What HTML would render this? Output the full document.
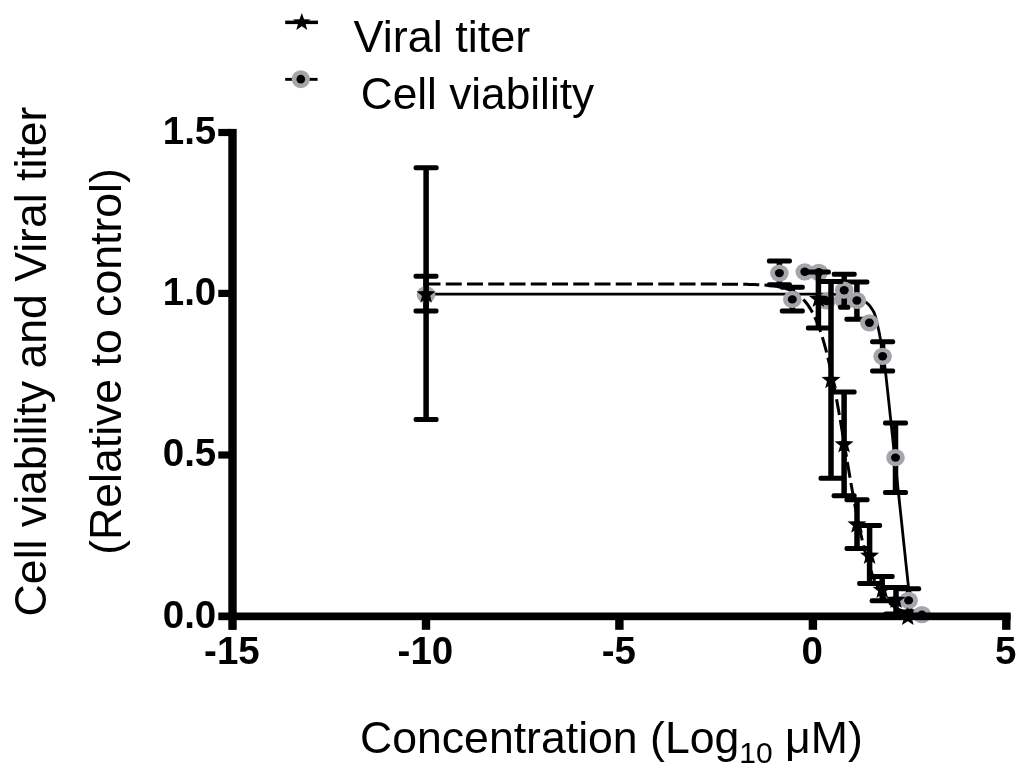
<!DOCTYPE html>
<html><head><meta charset="utf-8"><style>
html,body{margin:0;padding:0;background:#fff;}
svg{display:block;will-change:transform;}
</style></head><body>
<svg width="1024" height="778" viewBox="0 0 1024 778">
<rect width="1024" height="778" fill="#fff"/>
<path d="M426,294.2 L818.00,294.20 L818.58,294.20 L819.31,294.21 L820.16,294.21 L821.11,294.22 L822.15,294.22 L823.25,294.23 L824.39,294.24 L825.56,294.25 L826.72,294.26 L827.86,294.27 L828.96,294.28 L830.00,294.30 L831.01,294.32 L832.05,294.33 L833.09,294.34 L834.15,294.36 L835.20,294.38 L836.25,294.39 L837.28,294.42 L838.30,294.44 L839.28,294.47 L840.23,294.51 L841.14,294.55 L842.00,294.60 L842.81,294.65 L843.56,294.71 L844.28,294.76 L844.96,294.82 L845.62,294.89 L846.25,294.96 L846.87,295.03 L847.48,295.12 L848.09,295.22 L848.71,295.33 L849.35,295.46 L850.00,295.60 L850.67,295.75 L851.33,295.92 L851.99,296.09 L852.65,296.28 L853.31,296.47 L853.97,296.68 L854.63,296.90 L855.30,297.13 L855.96,297.38 L856.64,297.64 L857.32,297.91 L858.00,298.20 L858.70,298.51 L859.43,298.84 L860.18,299.18 L860.94,299.54 L861.71,299.92 L862.47,300.31 L863.22,300.70 L863.94,301.10 L864.64,301.50 L865.31,301.90 L865.93,302.30 L866.50,302.70 L867.02,303.09 L867.49,303.48 L867.93,303.86 L868.33,304.25 L868.70,304.64 L869.06,305.04 L869.39,305.44 L869.71,305.85 L870.03,306.27 L870.35,306.70 L870.67,307.14 L871.00,307.60 L871.34,308.07 L871.67,308.54 L871.99,309.02 L872.31,309.50 L872.63,309.99 L872.94,310.50 L873.24,311.02 L873.53,311.56 L873.81,312.11 L874.09,312.68 L874.35,313.28 L874.60,313.90 L874.84,314.54 L875.05,315.20 L875.26,315.88 L875.45,316.57 L875.63,317.28 L875.81,318.01 L875.98,318.76 L876.15,319.53 L876.33,320.32 L876.51,321.12 L876.70,321.95 L876.90,322.80 L877.11,323.65 L877.32,324.49 L877.53,325.32 L877.74,326.17 L877.96,327.03 L878.18,327.93 L878.41,328.86 L878.63,329.84 L878.87,330.89 L879.10,332.01 L879.35,333.21 L879.60,334.50 L879.86,335.90 L880.13,337.39 L880.41,338.97 L880.69,340.62 L880.98,342.34 L881.27,344.10 L881.57,345.90 L881.86,347.72 L882.15,349.56 L882.44,351.39 L882.72,353.21 L883.00,355.00 L883.24,356.53 L883.44,357.67 L883.61,358.54 L883.77,359.29 L883.92,360.05 L884.08,360.96 L884.27,362.15 L884.50,363.76 L884.78,365.93 L885.14,368.78 L885.57,372.46 L886.10,377.10 L886.73,382.79 L887.46,389.45 L888.27,396.93 L889.15,405.10 L890.08,413.82 L891.06,422.96 L892.06,432.39 L893.07,441.96 L894.09,451.54 L895.09,461.00 L896.06,470.20 L897.00,479.00 L897.94,487.80 L898.91,497.01 L899.92,506.50 L900.94,516.12 L901.96,525.76 L902.96,535.27 L903.94,544.54 L904.89,553.42 L905.77,561.79 L906.60,569.51 L907.35,576.46 L908.00,582.50 L908.57,587.64 L909.06,592.04 L909.48,595.77 L909.85,598.91 L910.17,601.53 L910.44,603.72 L910.67,605.55 L910.87,607.09 L911.05,608.43 L911.21,609.65 L911.35,610.81 L911.50,612.00" fill="none" stroke="#000" stroke-width="2.8"/><path d="M426.00,284.09 L427.61,284.09 L429.21,284.09 L430.82,284.09 L432.42,284.09 L434.03,284.09 L435.63,284.09 L437.24,284.09 L438.85,284.09 L440.45,284.09 L442.06,284.09 L443.66,284.09 L445.27,284.09 L446.87,284.09 L448.48,284.09 L450.08,284.09 L451.69,284.09 L453.30,284.09 L454.90,284.09 L456.51,284.09 L458.11,284.09 L459.72,284.09 L461.32,284.09 L462.93,284.09 L464.54,284.09 L466.14,284.09 L467.75,284.09 L469.35,284.09 L470.96,284.09 L472.56,284.09 L474.17,284.09 L475.77,284.09 L477.38,284.09 L478.99,284.09 L480.59,284.09 L482.20,284.09 L483.80,284.09 L485.41,284.09 L487.01,284.09 L488.62,284.09 L490.23,284.09 L491.83,284.09 L493.44,284.09 L495.04,284.09 L496.65,284.09 L498.25,284.09 L499.86,284.09 L501.46,284.09 L503.07,284.09 L504.68,284.09 L506.28,284.09 L507.89,284.09 L509.49,284.09 L511.10,284.09 L512.70,284.09 L514.31,284.09 L515.92,284.09 L517.52,284.09 L519.13,284.09 L520.73,284.09 L522.34,284.09 L523.94,284.09 L525.55,284.09 L527.16,284.09 L528.76,284.09 L530.37,284.09 L531.97,284.09 L533.58,284.09 L535.18,284.09 L536.79,284.09 L538.39,284.09 L540.00,284.09 L541.61,284.09 L543.21,284.09 L544.82,284.09 L546.42,284.09 L548.03,284.09 L549.63,284.09 L551.24,284.09 L552.85,284.09 L554.45,284.09 L556.06,284.09 L557.66,284.09 L559.27,284.09 L560.87,284.09 L562.48,284.09 L564.08,284.09 L565.69,284.09 L567.30,284.09 L568.90,284.09 L570.51,284.09 L572.11,284.09 L573.72,284.09 L575.32,284.09 L576.93,284.09 L578.54,284.09 L580.14,284.09 L581.75,284.09 L583.35,284.09 L584.96,284.09 L586.56,284.09 L588.17,284.09 L589.77,284.09 L591.38,284.09 L592.99,284.09 L594.59,284.09 L596.20,284.09 L597.80,284.09 L599.41,284.09 L601.01,284.09 L602.62,284.09 L604.23,284.09 L605.83,284.09 L607.44,284.09 L609.04,284.09 L610.65,284.09 L612.25,284.09 L613.86,284.09 L615.46,284.09 L617.07,284.09 L618.68,284.09 L620.28,284.09 L621.89,284.09 L623.49,284.09 L625.10,284.09 L626.70,284.09 L628.31,284.09 L629.92,284.09 L631.52,284.09 L633.13,284.09 L634.73,284.09 L636.34,284.09 L637.94,284.09 L639.55,284.09 L641.16,284.09 L642.76,284.09 L644.37,284.09 L645.97,284.09 L647.58,284.09 L649.18,284.09 L650.79,284.09 L652.39,284.09 L654.00,284.09 L655.61,284.09 L657.21,284.09 L658.82,284.09 L660.42,284.09 L662.03,284.09 L663.63,284.09 L665.24,284.09 L666.85,284.09 L668.45,284.09 L670.06,284.09 L671.66,284.09 L673.27,284.09 L674.87,284.09 L676.48,284.09 L678.08,284.09 L679.69,284.09 L681.30,284.10 L682.90,284.10 L684.51,284.10 L686.11,284.10 L687.72,284.10 L689.32,284.10 L690.93,284.10 L692.54,284.10 L694.14,284.10 L695.75,284.10 L697.35,284.10 L698.96,284.10 L700.56,284.10 L702.17,284.10 L703.77,284.11 L705.38,284.11 L706.99,284.11 L708.59,284.11 L710.20,284.11 L711.80,284.11 L713.41,284.12 L715.01,284.12 L716.62,284.12 L718.23,284.13 L719.83,284.13 L721.44,284.14 L723.04,284.14 L724.65,284.15 L726.25,284.16 L727.86,284.16 L729.47,284.17 L731.07,284.18 L732.68,284.19 L734.28,284.20 L735.89,284.22 L737.49,284.23 L739.10,284.25 L740.70,284.27 L742.31,284.29 L743.92,284.32 L745.52,284.34 L747.13,284.37 L748.73,284.41 L750.34,284.45 L751.94,284.49 L753.55,284.54 L755.16,284.59 L756.76,284.65 L758.37,284.72 L759.97,284.80 L761.58,284.89 L763.18,284.98 L764.79,285.09 L766.39,285.22 L768.00,285.35 L769.61,285.51 L771.21,285.68 L772.82,285.87 L774.42,286.09 L776.03,286.33 L777.63,286.60 L779.24,286.91 L780.85,287.25 L782.45,287.64 L784.06,288.06 L785.66,288.54 L787.27,289.08 L788.87,289.68 L790.48,290.36 L792.08,291.11 L793.69,291.95 L795.30,292.88 L796.90,293.93 L798.51,295.09 L800.11,296.39 L801.72,297.84 L803.32,299.45 L804.93,301.23 L806.54,303.21 L808.14,305.40 L809.75,307.83 L811.35,310.51 L812.96,313.46 L814.56,316.70 L816.17,320.27 L817.77,324.17 L819.38,328.42 L820.99,333.06 L822.59,338.08 L824.20,343.52 L825.80,349.37 L827.41,355.65 L829.01,362.35 L830.62,369.48 L832.23,377.02 L833.83,384.95 L835.44,393.25 L837.04,401.88 L838.65,410.81 L840.25,419.99 L841.86,429.37 L843.47,438.88 L845.07,448.46 L846.68,458.06 L848.28,467.60 L849.89,477.03 L851.49,486.29 L853.10,495.31 L854.70,504.06 L856.31,512.49 L857.92,520.55 L859.52,528.24 L861.13,535.52 L862.73,542.37 L864.34,548.81 L865.94,554.81 L867.55,560.40 L869.16,565.57 L870.76,570.34 L872.37,574.73 L873.97,578.76 L875.58,582.44 L877.18,585.80 L878.79,588.85 L880.39,591.63 L882.00,594.14 L883.61,596.42 L885.21,598.47 L886.82,600.32 L888.42,601.99 L890.03,603.49 L891.63,604.84 L893.24,606.06 L894.85,607.14 L896.45,608.12 L898.06,608.99 L899.66,609.78 L901.27,610.48 L902.87,611.10 L904.48,611.66 L906.08,612.16 L907.69,612.61" fill="none" stroke="#000" stroke-width="3.0" stroke-dasharray="16 5.25" stroke-dashoffset="1.5"/><ellipse cx="843.9" cy="299.6" rx="9.3" ry="9.6" fill="#a6a5ab"/><rect x="423.25" y="276.20" width="5.5" height="34.90" fill="#000"/><rect x="413.50" y="273.70" width="25.00" height="5" rx="2" fill="#000"/><rect x="413.50" y="308.60" width="25.00" height="5" rx="2" fill="#000"/><rect x="776.65" y="261.00" width="5.5" height="23.80" fill="#000"/><rect x="766.90" y="258.50" width="25.00" height="5" rx="2" fill="#000"/><rect x="766.90" y="282.30" width="25.00" height="5" rx="2" fill="#000"/><rect x="789.55" y="287.20" width="5.5" height="23.70" fill="#000"/><rect x="779.80" y="284.70" width="25.00" height="5" rx="2" fill="#000"/><rect x="779.80" y="308.40" width="25.00" height="5" rx="2" fill="#000"/><rect x="841.45" y="274.20" width="5.5" height="33.00" fill="#000"/><rect x="831.70" y="271.70" width="25.00" height="5" rx="2" fill="#000"/><rect x="838.00" y="304.70" width="12.40" height="5" rx="2" fill="#000"/><rect x="854.15" y="282.10" width="5.5" height="37.20" fill="#000"/><rect x="844.40" y="279.60" width="25.00" height="5" rx="2" fill="#000"/><rect x="844.40" y="316.80" width="25.00" height="5" rx="2" fill="#000"/><rect x="879.85" y="341.80" width="5.5" height="29.30" fill="#000"/><rect x="870.10" y="339.30" width="25.00" height="5" rx="2" fill="#000"/><rect x="870.10" y="368.60" width="25.00" height="5" rx="2" fill="#000"/><rect x="892.75" y="423.10" width="5.5" height="69.50" fill="#000"/><rect x="883.00" y="420.60" width="25.00" height="5" rx="2" fill="#000"/><rect x="883.00" y="490.10" width="25.00" height="5" rx="2" fill="#000"/><rect x="905.85" y="588.80" width="5.5" height="23.20" fill="#000"/><rect x="896.10" y="586.30" width="25.00" height="5" rx="2" fill="#000"/><rect x="896.10" y="609.50" width="25.00" height="5" rx="2" fill="#000"/><ellipse cx="426.0" cy="294.6" rx="9.3" ry="8.6" fill="#a6a5ab"/><ellipse cx="426.0" cy="294.6" rx="4.5" ry="4.2" fill="#000"/><ellipse cx="779.4" cy="273.1" rx="9.3" ry="8.6" fill="#a6a5ab"/><ellipse cx="779.4" cy="273.1" rx="4.5" ry="4.2" fill="#000"/><ellipse cx="792.3" cy="299.4" rx="9.3" ry="8.6" fill="#a6a5ab"/><ellipse cx="792.3" cy="299.4" rx="4.5" ry="4.2" fill="#000"/><ellipse cx="804.8" cy="271.8" rx="9.3" ry="8.6" fill="#a6a5ab"/><ellipse cx="804.8" cy="271.8" rx="4.5" ry="4.2" fill="#000"/><ellipse cx="818.8" cy="272.3" rx="9.3" ry="8.6" fill="#a6a5ab"/><ellipse cx="818.8" cy="272.3" rx="4.5" ry="4.2" fill="#000"/><ellipse cx="826.5" cy="301.0" rx="9.3" ry="8.6" fill="#a6a5ab"/><ellipse cx="826.5" cy="301.0" rx="4.5" ry="4.2" fill="#000"/><ellipse cx="844.2" cy="290.2" rx="9.3" ry="8.6" fill="#a6a5ab"/><ellipse cx="844.2" cy="290.2" rx="4.5" ry="4.2" fill="#000"/><ellipse cx="856.9" cy="300.5" rx="9.3" ry="8.6" fill="#a6a5ab"/><ellipse cx="856.9" cy="300.5" rx="4.5" ry="4.2" fill="#000"/><ellipse cx="869.4" cy="322.8" rx="9.3" ry="8.6" fill="#a6a5ab"/><ellipse cx="869.4" cy="322.8" rx="4.5" ry="4.2" fill="#000"/><ellipse cx="882.6" cy="356.3" rx="9.3" ry="8.6" fill="#a6a5ab"/><ellipse cx="882.6" cy="356.3" rx="4.5" ry="4.2" fill="#000"/><ellipse cx="895.5" cy="457.6" rx="9.3" ry="8.6" fill="#a6a5ab"/><ellipse cx="895.5" cy="457.6" rx="4.5" ry="4.2" fill="#000"/><ellipse cx="908.6" cy="600.4" rx="9.3" ry="8.6" fill="#a6a5ab"/><ellipse cx="908.6" cy="600.4" rx="4.5" ry="4.2" fill="#000"/><ellipse cx="921.9" cy="614.6" rx="9.3" ry="8.6" fill="#a6a5ab"/><ellipse cx="921.9" cy="614.6" rx="4.5" ry="4.2" fill="#000"/><rect x="423.35" y="167.70" width="5.5" height="251.90" fill="#000"/><rect x="413.60" y="165.20" width="25.00" height="5" rx="2" fill="#000"/><rect x="413.60" y="417.10" width="25.00" height="5" rx="2" fill="#000"/><rect x="815.65" y="272.10" width="5.5" height="55.90" fill="#000"/><rect x="805.90" y="269.60" width="25.00" height="5" rx="2" fill="#000"/><rect x="805.90" y="325.50" width="25.00" height="5" rx="2" fill="#000"/><rect x="828.25" y="281.60" width="5.5" height="196.60" fill="#000"/><rect x="818.50" y="279.10" width="25.00" height="5" rx="2" fill="#000"/><rect x="818.50" y="475.70" width="25.00" height="5" rx="2" fill="#000"/><rect x="841.35" y="392.10" width="5.5" height="103.70" fill="#000"/><rect x="831.60" y="389.60" width="25.00" height="5" rx="2" fill="#000"/><rect x="831.60" y="493.30" width="25.00" height="5" rx="2" fill="#000"/><rect x="854.25" y="499.80" width="5.5" height="48.70" fill="#000"/><rect x="844.50" y="497.30" width="25.00" height="5" rx="2" fill="#000"/><rect x="844.50" y="546.00" width="25.00" height="5" rx="2" fill="#000"/><rect x="866.85" y="525.50" width="5.5" height="58.00" fill="#000"/><rect x="857.10" y="523.00" width="25.00" height="5" rx="2" fill="#000"/><rect x="857.10" y="581.00" width="25.00" height="5" rx="2" fill="#000"/><rect x="879.45" y="576.40" width="5.5" height="24.40" fill="#000"/><rect x="869.70" y="573.90" width="25.00" height="5" rx="2" fill="#000"/><rect x="869.70" y="598.30" width="25.00" height="5" rx="2" fill="#000"/><rect x="893.25" y="587.50" width="5.5" height="26.50" fill="#000"/><rect x="883.50" y="585.00" width="25.00" height="5" rx="2" fill="#000"/><rect x="883.50" y="611.50" width="25.00" height="5" rx="2" fill="#000"/><polygon points="426.10,284.50 428.57,291.10 435.61,291.41 430.09,295.80 431.98,302.59 426.10,298.70 420.22,302.59 422.11,295.80 416.59,291.41 423.63,291.10" fill="#000"/><polygon points="818.40,289.00 820.87,295.60 827.91,295.91 822.39,300.30 824.28,307.09 818.40,303.20 812.52,307.09 814.41,300.30 808.89,295.91 815.93,295.60" fill="#000"/><polygon points="831.00,370.20 833.47,376.80 840.51,377.11 834.99,381.50 836.88,388.29 831.00,384.40 825.12,388.29 827.01,381.50 821.49,377.11 828.53,376.80" fill="#000"/><polygon points="844.10,434.50 846.57,441.10 853.61,441.41 848.09,445.80 849.98,452.59 844.10,448.70 838.22,452.59 840.11,445.80 834.59,441.41 841.63,441.10" fill="#000"/><polygon points="857.00,514.70 859.47,521.30 866.51,521.61 860.99,526.00 862.88,532.79 857.00,528.90 851.12,532.79 853.01,526.00 847.49,521.61 854.53,521.30" fill="#000"/><polygon points="869.60,545.90 872.07,552.50 879.11,552.81 873.59,557.20 875.48,563.99 869.60,560.10 863.72,563.99 865.61,557.20 860.09,552.81 867.13,552.50" fill="#000"/><polygon points="882.20,580.00 884.67,586.60 891.71,586.91 886.19,591.30 888.08,598.09 882.20,594.20 876.32,598.09 878.21,591.30 872.69,586.91 879.73,586.60" fill="#000"/><polygon points="896.00,590.00 898.47,596.60 905.51,596.91 899.99,601.30 901.88,608.09 896.00,604.20 890.12,608.09 892.01,601.30 886.49,596.91 893.53,596.60" fill="#000"/><polygon points="907.80,607.00 910.27,613.60 917.31,613.91 911.79,618.30 913.68,625.09 907.80,621.20 901.92,625.09 903.81,618.30 898.29,613.91 905.33,613.60" fill="#000"/>
<rect x="228.3" y="128.9" width="8.4" height="501" fill="#000"/><rect x="218.3" y="612.5" width="792.3" height="7.7" fill="#000"/><rect x="218.3" y="128.9" width="12" height="7.2" fill="#000"/><rect x="218.3" y="289.8" width="12" height="7.2" fill="#000"/><rect x="218.3" y="451.4" width="12" height="7.2" fill="#000"/><rect x="421.8" y="614" width="8.4" height="15.8" fill="#000"/><rect x="615.2" y="614" width="8.4" height="15.8" fill="#000"/><rect x="808.7" y="614" width="8.4" height="15.8" fill="#000"/><rect x="1002.1" y="614" width="8.4" height="15.8" fill="#000"/>
<rect x="285.2" y="20.6" width="32.8" height="3.5" fill="#000"/><polygon points="301.80,13.10 304.09,19.24 310.64,19.53 305.51,23.61 307.27,29.92 301.80,26.30 296.33,29.92 298.09,23.61 292.96,19.53 299.51,19.24" fill="#000"/><rect x="285.2" y="77.9" width="32.4" height="2.9" fill="#000"/><ellipse cx="300.8" cy="79.2" rx="9" ry="9" fill="#a6a5ab"/><ellipse cx="300.8" cy="79.2" rx="4.3" ry="4.4" fill="#000"/>
<text x="216.3" y="143.8" text-anchor="end" font-weight="bold" font-size="38.5" font-family="Liberation Sans, sans-serif">1.5</text><text x="216.3" y="304.7" text-anchor="end" font-weight="bold" font-size="38.5" font-family="Liberation Sans, sans-serif">1.0</text><text x="216.3" y="466.3" text-anchor="end" font-weight="bold" font-size="38.5" font-family="Liberation Sans, sans-serif">0.5</text><text x="216.3" y="627.6" text-anchor="end" font-weight="bold" font-size="38.5" font-family="Liberation Sans, sans-serif">0.0</text><text x="231.9" y="664.2" text-anchor="middle" font-weight="bold" font-size="38.5" font-family="Liberation Sans, sans-serif">-15</text><text x="425.4" y="664.2" text-anchor="middle" font-weight="bold" font-size="38.5" font-family="Liberation Sans, sans-serif">-10</text><text x="618.8" y="664.2" text-anchor="middle" font-weight="bold" font-size="38.5" font-family="Liberation Sans, sans-serif">-5</text><text x="812.3" y="664.2" text-anchor="middle" font-weight="bold" font-size="38.5" font-family="Liberation Sans, sans-serif">0</text><text x="1005.7" y="664.2" text-anchor="middle" font-weight="bold" font-size="38.5" font-family="Liberation Sans, sans-serif">5</text><text x="353.5" y="51.5" font-size="45" font-family="Liberation Sans, sans-serif">Viral titer</text><text x="360.8" y="108.5" font-size="44.2" font-family="Liberation Sans, sans-serif">Cell viability</text><text x="360" y="753" font-size="44.6" font-family="Liberation Sans, sans-serif">Concentration (Log<tspan font-size="30" dy="10">10</tspan><tspan dy="-10"> μM)</tspan></text><text transform="translate(45.6 361.5) rotate(-90)" text-anchor="middle" font-size="44.6" font-family="Liberation Sans, sans-serif">Cell viability and Viral titer</text><text transform="translate(121.4 361.5) rotate(-90)" text-anchor="middle" font-size="44.6" font-family="Liberation Sans, sans-serif">(Relative to control)</text>
</svg>
</body></html>
